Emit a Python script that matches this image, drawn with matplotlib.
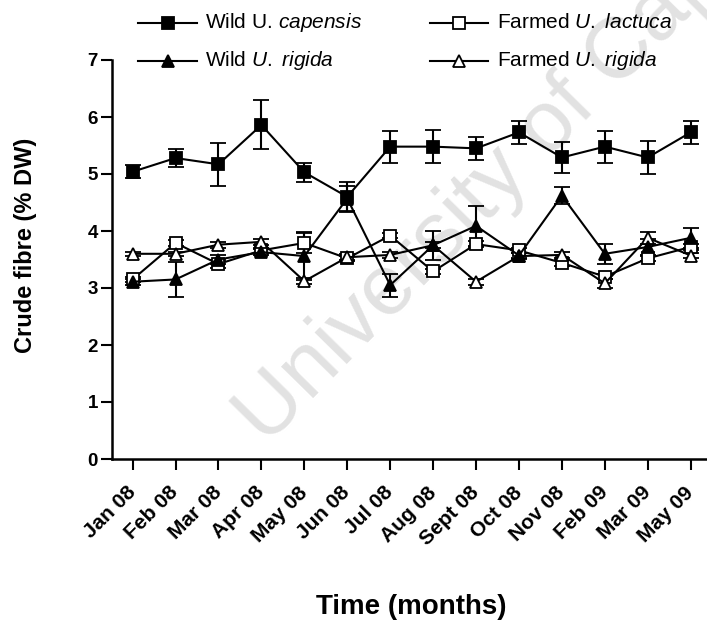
import matplotlib
matplotlib.use("Agg")
import matplotlib.pyplot as plt
from matplotlib.lines import Line2D
import numpy as np

plt.rcParams['font.family'] = ['Liberation Sans', 'DejaVu Sans']
plt.rcParams['mathtext.fontset'] = 'custom'
plt.rcParams['mathtext.rm'] = 'Liberation Sans'
plt.rcParams['mathtext.it'] = 'Liberation Sans:italic'

months = ["Jan 08", "Feb 08", "Mar 08", "Apr 08", "May 08", "Jun 08", "Jul 08",
          "Aug 08", "Sept 08", "Oct 08", "Nov 08", "Feb 09", "Mar 09", "May 09"]

wild_capensis = [5.04, 5.28, 5.17, 5.86, 5.03, 4.60, 5.48, 5.48, 5.45, 5.73, 5.29, 5.48, 5.29, 5.73]
wild_capensis_err = [0.11, 0.16, 0.38, 0.43, 0.17, 0.26, 0.28, 0.29, 0.20, 0.20, 0.27, 0.28, 0.29, 0.20]

wild_rigida = [3.11, 3.15, 3.50, 3.63, 3.56, 4.57, 3.05, 3.75, 4.09, 3.57, 4.62, 3.60, 3.72, 3.88]
wild_rigida_err = [0.05, 0.30, 0.08, 0.05, 0.42, 0.22, 0.20, 0.25, 0.35, 0.05, 0.15, 0.18, 0.14, 0.17]

farmed_lactuca = [3.15, 3.79, 3.42, 3.66, 3.79, 3.52, 3.92, 3.29, 3.77, 3.66, 3.44, 3.20, 3.52, 3.72]
farmed_lactuca_err = [0.05, 0.05, 0.07, 0.05, 0.17, 0.05, 0.05, 0.05, 0.05, 0.05, 0.05, 0.05, 0.05, 0.05]

farmed_rigida = [3.60, 3.60, 3.76, 3.81, 3.12, 3.54, 3.58, 3.75, 3.11, 3.56, 3.58, 3.08, 3.88, 3.57]
farmed_rigida_err = [0.03, 0.03, 0.05, 0.05, 0.05, 0.05, 0.05, 0.05, 0.05, 0.05, 0.05, 0.08, 0.10, 0.05]

W, H = 707, 623
fig = plt.figure(figsize=(W / 100, H / 100), dpi=100)
ax = fig.add_axes([112 / W, (H - 459) / H, (W - 112) / W, (459 - 60) / H])
ax.patch.set_visible(False)

# faint watermark, drawn beneath the data lines
ax.text(266 / W, 1 - 446 / H, "University of Cape Town", transform=fig.transFigure,
        fontsize=62, color='#e2e2e2', rotation=45.5, rotation_mode='anchor',
        ha='left', va='baseline', zorder=0, clip_on=False)

x = np.arange(len(months))
lw = 1.5
common = dict(color='black', lw=lw, elinewidth=lw, capsize=5.5, capthick=lw, clip_on=False)
series = [
    (farmed_lactuca, farmed_lactuca_err, 's', 'white'),
    (farmed_rigida, farmed_rigida_err, '^', 'white'),
    (wild_rigida, wild_rigida_err, '^', 'black'),
    (wild_capensis, wild_capensis_err, 's', 'black'),
]
for vals, err, mk, fc in series:
    ax.errorbar(x, vals, yerr=err, marker=mk, ms=8, mfc=fc, mec='black', mew=1.3,
                zorder=3, **common)

ax.set_xlim(-0.48, 13.38)
ax.set_ylim(0, 7)
ax.set_yticks(range(0, 8))
ax.set_xticks(x)
ax.set_xticklabels(months, rotation=45, ha='right', va='center', rotation_mode='anchor',
                   fontsize=15, fontweight='bold')
ax.tick_params(axis='x', length=8, width=1.5, pad=14)
ax.tick_params(axis='y', length=8, width=1.5, labelsize=13.5, pad=2)
for lab in ax.get_yticklabels():
    lab.set_fontweight('bold')
for s in ['top', 'right']:
    ax.spines[s].set_visible(False)
for s in ['left', 'bottom']:
    ax.spines[s].set_linewidth(1.8)

fig.text(26 / W, 1 - 245 / H, "Crude fibre (% DW)", rotation=90, ha='center', va='center',
         fontsize=17, fontweight='bold')
fig.text(411 / W, 1 - 607 / H, "Time (months)", ha='center', va='center',
         fontsize=20, fontweight='bold')

# legend drawn as line + marker + label
legend_items = [
    (138, 197, 205, 23, 's', 'black', r"Wild U. $\it{capensis}$"),
    (430, 488, 497, 23, 's', 'white', r"Farmed $\it{U.\ lactuca}$"),
    (138, 197, 205, 61, '^', 'black', r"Wild $\it{U.\ rigida}$"),
    (430, 488, 497, 61, '^', 'white', r"Farmed $\it{U.\ rigida}$"),
]
for x0, x1, xt, yy, mk, fc, label in legend_items:
    xs = np.array([x0, (x0 + x1) / 2, x1]) / W
    ys = np.array([1 - yy / H] * 3)
    fig.add_artist(Line2D(xs, ys, color='black', lw=lw, marker=mk, markevery=[1],
                          ms=8, mfc=fc, mec='black', mew=1.3))
    fig.text(xt / W, 1 - yy / H, label, ha='left', va='center', fontsize=15)

fig.savefig("out.png", dpi=100)
